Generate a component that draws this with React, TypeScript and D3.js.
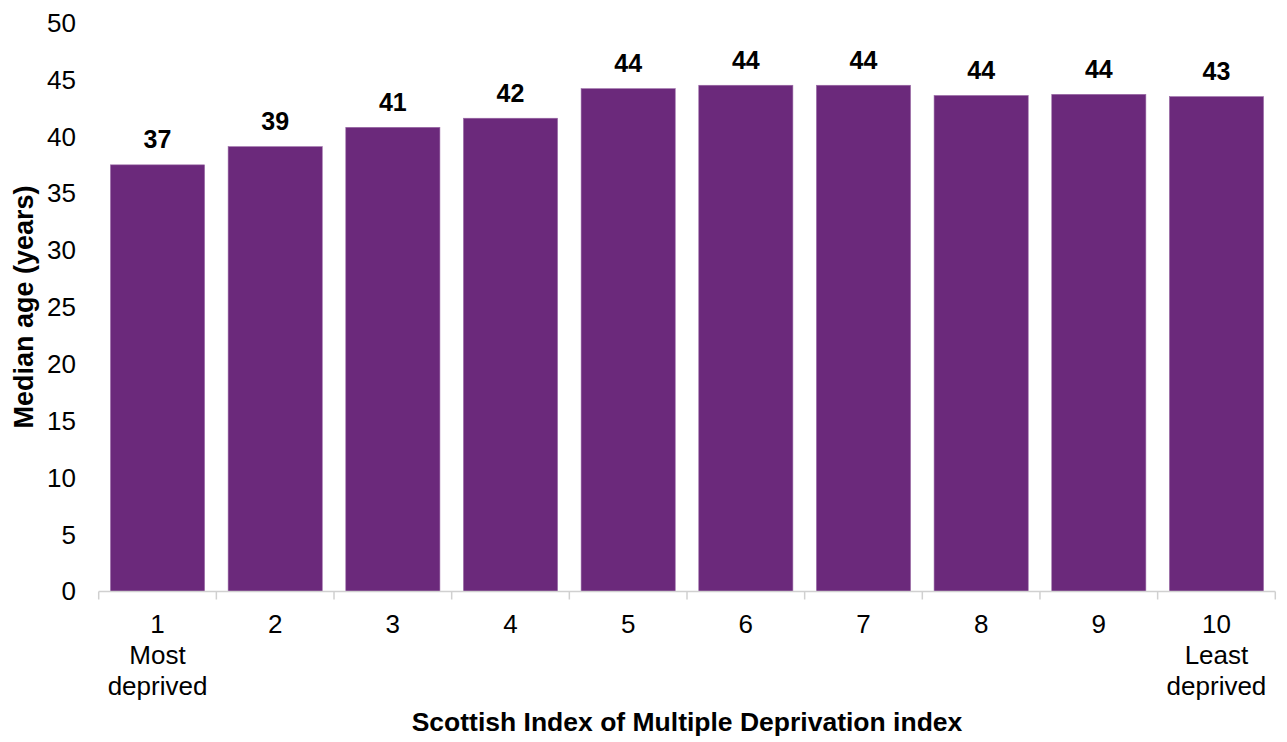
import React from "react";
import * as d3 from "d3";

const categories = ["1", "2", "3", "4", "5", "6", "7", "8", "9", "10"];
const subLabels: string[][] = [["Most", "deprived"], [], [], [], [], [], [], [], [], ["Least", "deprived"]];
const medianAge = [37.5, 39.1, 40.8, 41.6, 44.2, 44.5, 44.5, 43.6, 43.7, 43.5];
const valueLabels = ["37", "39", "41", "42", "44", "44", "44", "44", "44", "43"];
const yTicks = [0, 5, 10, 15, 20, 25, 30, 35, 40, 45, 50];

const W = 1287;
const H = 742;
const FONT = "'Liberation Sans', Arial, sans-serif";

export default function App() {
  const x = d3
    .scaleBand<string>()
    .domain(categories)
    .range([98.7, 1275.3])
    .paddingInner(0.2)
    .paddingOuter(0.1);
  const y = d3.scaleLinear().domain([0, 50]).range([591.3, 22.7]);
  const step = x.step();
  const x0 = 98.7;
  const axisY = 591.5;

  return (
    <svg
      width={W}
      height={H}
      style={{ position: "absolute", left: 0, top: 0, background: "#fff" }}
      fontFamily={FONT}
    >
      {/* bars */}
      {categories.map((c, i) => (
        <rect
          key={c}
          x={x(c)!}
          y={y(medianAge[i])}
          width={x.bandwidth()}
          height={y(0) - y(medianAge[i])}
          fill="#6B297B"
          stroke="#9a6aa6"
          strokeWidth={0.6}
        />
      ))}
      {/* value labels */}
      {categories.map((c, i) => (
        <text
          key={"v" + c}
          x={x(c)! + x.bandwidth() / 2}
          y={y(medianAge[i]) - 16.5}
          textAnchor="middle"
          fontSize={25}
          fontWeight="bold"
          fill="#000"
        >
          {valueLabels[i]}
        </text>
      ))}
      {/* x axis line */}
      <line x1={x0} x2={x0 + step * categories.length} y1={axisY} y2={axisY} stroke="#d0d0d0" strokeWidth={1.5} />
      {d3.range(categories.length + 1).map((k) => (
        <line
          key={"t" + k}
          x1={x0 + k * step}
          x2={x0 + k * step}
          y1={axisY}
          y2={axisY + 8}
          stroke="#d0d0d0"
          strokeWidth={1.5}
        />
      ))}
      {/* x tick labels */}
      {categories.map((c, i) => (
        <text
          key={"x" + c}
          x={x(c)! + x.bandwidth() / 2}
          y={633}
          textAnchor="middle"
          fontSize={26}
          fill="#000"
        >
          <tspan x={x(c)! + x.bandwidth() / 2}>{c}</tspan>
          {subLabels[i].map((s, j) => (
            <tspan key={j} x={x(c)! + x.bandwidth() / 2} dy={31}>
              {s}
            </tspan>
          ))}
        </text>
      ))}
      {/* y tick labels */}
      {yTicks.map((t) => (
        <text key={"y" + t} x={76} y={y(t)} dy="0.35em" textAnchor="end" fontSize={26} fill="#000">
          {t}
        </text>
      ))}
      {/* axis titles */}
      <text x={687} y={731} textAnchor="middle" fontSize={26.5} fontWeight="bold" fill="#000">
        Scottish Index of Multiple Deprivation index
      </text>
      <text
        transform={`translate(33, 307) rotate(-90)`}
        textAnchor="middle"
        fontSize={27}
        fontWeight="bold"
        fill="#000"
      >
        Median age (years)
      </text>
    </svg>
  );
}
